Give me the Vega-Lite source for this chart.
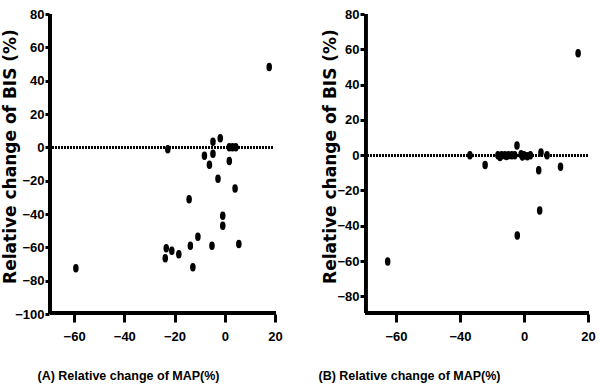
{
  "$schema": "https://vega.github.io/schema/vega-lite/v6.json",
  "padding": {"left": 1, "top": 8, "right": 5, "bottom": 5},
  "spacing": 35,
  "config": {
    "view": {"stroke": null},
    "axis": {
      "grid": false,
      "domain": false,
      "ticks": true,
      "tickColor": "#000000",
      "tickWidth": 3,
      "labelColor": "#000000",
      "labelFont": "Liberation Sans",
      "labelFontWeight": "bold",
      "labelFontSize": 13,
      "labelOverlap": false,
      "labelBound": false,
      "labelFlush": false,
      "titleColor": "#000000",
      "titleFontWeight": "bold"
    }
  },
  "hconcat": [
    {
      "width": 227,
      "height": 300,
      "data": {"values": [
        {"map": -59.3, "bis": -72.6},
        {"map": -22.7, "bis": -1.2},
        {"map": -23.7, "bis": -66.5},
        {"map": -23.3, "bis": -60.5},
        {"map": -21.1, "bis": -62},
        {"map": -18.3, "bis": -64.2},
        {"map": -14.2, "bis": -31.1},
        {"map": -13.7, "bis": -59},
        {"map": -12.7, "bis": -72},
        {"map": -10.7, "bis": -53.6},
        {"map": -8.1, "bis": -5.1},
        {"map": -6.1, "bis": -10.5},
        {"map": -5.1, "bis": -59},
        {"map": -4.7, "bis": 3.3},
        {"map": -4.7, "bis": -3.9},
        {"map": -2.7, "bis": -18.9},
        {"map": -1.8, "bis": 5.5},
        {"map": -0.8, "bis": -41.1},
        {"map": -0.8, "bis": -47.1},
        {"map": 1.8, "bis": 0},
        {"map": 1.8, "bis": -8.2},
        {"map": 3.1, "bis": 0},
        {"map": 4.4, "bis": 0},
        {"map": 4.1, "bis": -24.7},
        {"map": 5.6, "bis": -58},
        {"map": 17.7, "bis": 48.2}
      ]},
      "encoding": {
        "x": {"field": "map", "type": "quantitative",
              "scale": {"domain": [-70, 20.4], "nice": false, "zero": false},
              "axis": {"values": [-60, -40, -20, 0, 20], "tickSize": 8, "labelPadding": 8,
                       "title": "(A) Relative change of MAP(%)", "titleFont": "Liberation Sans", "titleFontSize": 12.5,
                       "titleX": 79, "titleY": 65, "titleAlign": "center", "titleBaseline": "alphabetic"}},
        "y": {"field": "bis", "type": "quantitative",
              "scale": {"domain": [-100, 80], "nice": false, "zero": false},
              "axis": {"values": [-100, -80, -60, -40, -20, 0, 20, 40, 60, 80], "tickSize": 4, "labelPadding": 1,
                       "title": "Relative change of BIS (%)", "titleFont": "DejaVu Sans", "titleFontSize": 17,
                       "titleX": -39, "titleY": 142, "titleAlign": "center", "titleBaseline": "middle", "titleAngle": -90}}
      },
      "layer": [
        {
          "mark": {"type": "rule", "color": "black", "strokeWidth": 2.5, "strokeDash": [2, 1]},
          "encoding": {
            "y": {"datum": 0, "type": "quantitative"},
            "x": {"datum": -70, "type": "quantitative"},
            "x2": {"datum": 19.5}
          }
        },
        {
          "mark": {"type": "rule", "color": "black", "strokeWidth": 3},
          "encoding": {
            "x": {"datum": -69.5, "type": "quantitative"},
            "y": {"datum": -99.5, "type": "quantitative"},
            "y2": {"datum": 80}
          }
        },
        {
          "mark": {"type": "rule", "color": "black", "strokeWidth": 3},
          "encoding": {
            "y": {"datum": -99.5, "type": "quantitative"},
            "x": {"datum": -69.5, "type": "quantitative"},
            "x2": {"datum": 20.4}
          }
        },
        {
          "mark": {"type": "point", "filled": true, "color": "black", "opacity": 1, "size": 72,
                   "shape": "M0,-1C0.5,-1 0.65,-0.55 0.65,0C0.65,0.55 0.5,1 0,1C-0.5,1 -0.65,0.55 -0.65,0C-0.65,-0.55 -0.5,-1 0,-1Z"}
        }
      ]
    },
    {
      "width": 225,
      "height": 300,
      "data": {"values": [
        {"map": -62.6, "bis": -60.3},
        {"map": -33.8, "bis": 0},
        {"map": -24.3, "bis": -5.5},
        {"map": -16.3, "bis": 0},
        {"map": -15, "bis": -1},
        {"map": -14, "bis": 0},
        {"map": -12, "bis": 0},
        {"map": -11, "bis": -0.5},
        {"map": -9.8, "bis": 0},
        {"map": -7.7, "bis": 0},
        {"map": -5.8, "bis": 0},
        {"map": -4.4, "bis": 5.5},
        {"map": -1.8, "bis": 0.5},
        {"map": -1, "bis": -0.8},
        {"map": 0, "bis": 0},
        {"map": 1, "bis": -0.6},
        {"map": 2, "bis": 0},
        {"map": 4.6, "bis": -8.5},
        {"map": 5.3, "bis": 1.5},
        {"map": 7.2, "bis": 0},
        {"map": 11.4, "bis": -6.5},
        {"map": 4.9, "bis": -31.4},
        {"map": -4.2, "bis": -45.5},
        {"map": 16.9, "bis": 57.8}
      ]},
      "encoding": {
        "x": {"field": "map", "type": "quantitative",
              "scale": {"domain": [-70, -40, 0, 20.3], "range": [0, 96, 160, 225], "nice": false, "zero": false},
              "axis": {"values": [-60, -40, 0, 20], "tickSize": 8, "labelPadding": 8,
                       "title": "(B) Relative change of MAP(%)", "titleFont": "Liberation Sans", "titleFontSize": 12.5,
                       "titleX": 45, "titleY": 65, "titleAlign": "center", "titleBaseline": "alphabetic"}},
        "y": {"field": "bis", "type": "quantitative",
              "scale": {"domain": [-90, 80], "nice": false, "zero": false},
              "axis": {"values": [-80, -60, -40, -20, 0, 20, 40, 60, 80], "tickSize": 4, "labelPadding": 1,
                       "title": "Relative change of BIS (%)", "titleFont": "DejaVu Sans", "titleFontSize": 17,
                       "titleX": -34, "titleY": 142, "titleAlign": "center", "titleBaseline": "middle", "titleAngle": -90}}
      },
      "layer": [
        {
          "mark": {"type": "rule", "color": "black", "strokeWidth": 2.5, "strokeDash": [2, 1]},
          "encoding": {
            "y": {"datum": 0, "type": "quantitative"},
            "x": {"datum": -70, "type": "quantitative"},
            "x2": {"datum": 20}
          }
        },
        {
          "mark": {"type": "rule", "color": "black", "strokeWidth": 3},
          "encoding": {
            "x": {"datum": -69.5, "type": "quantitative"},
            "y": {"datum": -89.5, "type": "quantitative"},
            "y2": {"datum": 80}
          }
        },
        {
          "mark": {"type": "rule", "color": "black", "strokeWidth": 3},
          "encoding": {
            "y": {"datum": -89.5, "type": "quantitative"},
            "x": {"datum": -69.5, "type": "quantitative"},
            "x2": {"datum": 20.3}
          }
        },
        {
          "mark": {"type": "point", "filled": true, "color": "black", "opacity": 1, "size": 72,
                   "shape": "M0,-1C0.5,-1 0.65,-0.55 0.65,0C0.65,0.55 0.5,1 0,1C-0.5,1 -0.65,0.55 -0.65,0C-0.65,-0.55 -0.5,-1 0,-1Z"}
        }
      ]
    }
  ]
}
